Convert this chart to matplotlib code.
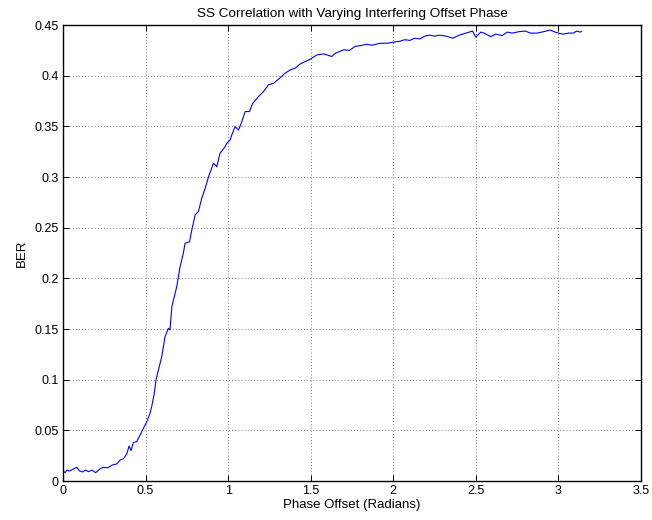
import matplotlib
matplotlib.use("Agg")
import matplotlib.pyplot as plt
from matplotlib.ticker import FuncFormatter

plt.rcParams['font.family'] = ['Liberation Sans', 'DejaVu Sans']

phase = [0.000, 0.012, 0.025, 0.040, 0.055, 0.083, 0.100, 0.117, 0.137, 0.155,
         0.175, 0.198, 0.224, 0.244, 0.270, 0.299, 0.325, 0.346, 0.366, 0.386,
         0.400, 0.412, 0.426, 0.446, 0.467, 0.487, 0.507, 0.527, 0.537, 0.553,
         0.563, 0.598, 0.618, 0.638, 0.648, 0.659, 0.689, 0.709, 0.729, 0.739,
         0.766, 0.780, 0.800, 0.820, 0.840, 0.861, 0.881, 0.911, 0.921, 0.931,
         0.951, 0.982, 0.992, 1.012, 1.022, 1.042, 1.063, 1.083, 1.103, 1.129,
         1.149, 1.184, 1.214, 1.244, 1.275, 1.305, 1.345, 1.376, 1.406, 1.436,
         1.467, 1.497, 1.537, 1.578, 1.628, 1.640, 1.659, 1.699, 1.735, 1.770,
         1.800, 1.840, 1.870, 1.920, 1.960, 2.000, 2.040, 2.070, 2.100, 2.130,
         2.160, 2.190, 2.220, 2.250, 2.280, 2.320, 2.360, 2.400, 2.440, 2.480,
         2.500, 2.530, 2.550, 2.590, 2.620, 2.660, 2.690, 2.720, 2.760, 2.800,
         2.830, 2.870, 2.910, 2.950, 2.980, 3.000, 3.030, 3.060, 3.090, 3.110,
         3.130, 3.140]
ber = [0.0102, 0.0082, 0.0108, 0.0098, 0.0112, 0.0135, 0.0100, 0.0089, 0.0108, 0.0092,
       0.0108, 0.0082, 0.0120, 0.0135, 0.0130, 0.0158, 0.0168, 0.0207, 0.0220, 0.0267,
       0.0345, 0.0300, 0.0380, 0.0389, 0.0454, 0.0520, 0.0585, 0.0668, 0.0734, 0.0866,
       0.0997, 0.1228, 0.1425, 0.1507, 0.1490, 0.1720, 0.1919, 0.2116, 0.2250, 0.2346,
       0.2360, 0.2478, 0.2626, 0.2660, 0.2790, 0.2889, 0.3000, 0.3136, 0.3120, 0.3100,
       0.3235, 0.3300, 0.3333, 0.3366, 0.3415, 0.3497, 0.3464, 0.3547, 0.3646, 0.3646,
       0.3728, 0.3794, 0.3843, 0.3909, 0.3926, 0.3965, 0.4024, 0.4057, 0.4074, 0.4116,
       0.4140, 0.4162, 0.4205, 0.4215, 0.4189, 0.4210, 0.4228, 0.4255, 0.4250, 0.4290,
       0.4296, 0.4310, 0.4300, 0.4320, 0.4320, 0.4330, 0.4340, 0.4355, 0.4348, 0.4370,
       0.4362, 0.4390, 0.4400, 0.4390, 0.4400, 0.4390, 0.4370, 0.4400, 0.4420, 0.4440,
       0.4380, 0.4430, 0.4420, 0.4385, 0.4410, 0.4395, 0.4430, 0.4420, 0.4434, 0.4440,
       0.4420, 0.4420, 0.4434, 0.4450, 0.4430, 0.4420, 0.4410, 0.4420, 0.4420, 0.4440,
       0.4430, 0.4435]

xticks = [0, 0.5, 1, 1.5, 2, 2.5, 3, 3.5]
yticks = [0, 0.05, 0.1, 0.15, 0.2, 0.25, 0.3, 0.35, 0.4, 0.45]

fig = plt.figure(figsize=(6.52, 5.2), dpi=100)
ax = fig.add_axes([63/652, 39/520, 578/652, 456/520])
ax.plot(phase, ber, color='#0000ff', linewidth=0.8)
ax.set_xlim(0, 3.5)
ax.set_ylim(0, 0.45)
ax.set_xticks(xticks)
ax.set_yticks(yticks)
fmt = FuncFormatter(lambda v, p: '%g' % v)
ax.xaxis.set_major_formatter(fmt)
ax.yaxis.set_major_formatter(fmt)
ax.tick_params(direction='in', top=True, right=True, labelsize=9, length=4.5, width=0.7, pad=3)
ax.grid(True, color='black', linestyle=(0, (1, 3.5)), linewidth=0.5)
for s in ax.spines.values():
    s.set_linewidth(1.0)
ax.set_title('SS Correlation with Varying Interfering Offset Phase', fontsize=9.7, pad=6)
ax.set_xlabel('Phase Offset (Radians)', fontsize=9.5, labelpad=1)
ax.set_ylabel('BER', fontsize=9.5, labelpad=5)
fig.savefig('out.png', dpi=100)
